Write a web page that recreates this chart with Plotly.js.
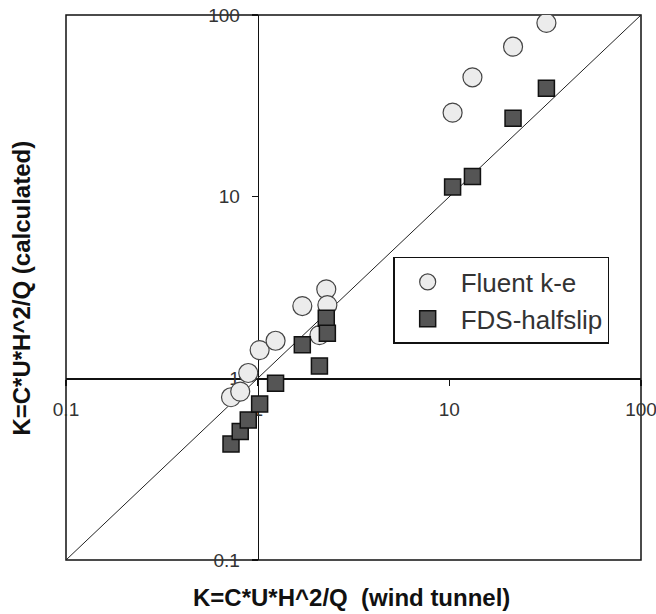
<!DOCTYPE html>
<html>
<head>
<meta charset="utf-8">
<script src="https://cdn.plot.ly/plotly-3.0.1.min.js"></script>
<style>html,body{margin:0;padding:0;background:#fff;}#chart{width:656px;height:614px;}</style>
</head>
<body>
<div id="chart"></div>
<script>
// Wind tunnel K values (shared by both series)
var windTunnel = [0.726, 0.811, 0.893, 1.024, 1.24, 1.71, 2.10, 2.28, 2.31, 10.4, 13.2, 21.5, 32.1];
// Fluent k-e calculated K
var fluentKe = [0.787, 0.845, 1.07, 1.43, 1.61, 2.50, 1.73, 3.09, 2.53, 29.0, 45.4, 66.9, 90.4];
// FDS-halfslip calculated K
var fdsHalfslip = [0.435, 0.509, 0.590, 0.723, 0.94, 1.53, 1.17, 2.14, 1.77, 11.3, 12.9, 27.0, 39.5];
// Reference line y = x
var diagX = [0.1, 100];
var diagY = [0.1, 100];
var tickVals = [0.1, 1, 10, 100];
var tickText = ['0.1', '1', '10', '100'];

var traces = [
  {x: diagX, y: diagY, mode: 'lines', type: 'scatter', showlegend: false, hoverinfo: 'skip',
   line: {color: '#222', width: 1}},
  {x: windTunnel, y: fluentKe, mode: 'markers', type: 'scatter', name: 'Fluent k-e',
   marker: {symbol: 'circle', size: 19, color: '#ececec', line: {color: '#444', width: 1.2}}},
  {x: windTunnel, y: fdsHalfslip, mode: 'markers', type: 'scatter', name: 'FDS-halfslip',
   marker: {symbol: 'square', size: 16, color: '#555555', line: {color: '#111', width: 1.5}}}
];

var tickFont = {family: 'Arial, "Liberation Sans", sans-serif', size: 19, color: '#333'};
var titleFont = {family: 'Arial, "Liberation Sans", sans-serif', size: 24, color: '#111', weight: 'bold'};

var layout = {
  width: 656, height: 614,
  margin: {l: 66, r: 15, t: 15, b: 54, pad: 0},
  paper_bgcolor: '#fff', plot_bgcolor: '#fff',
  showlegend: true,
  xaxis: {type: 'log', range: [-1, 2], anchor: 'free', position: 1/3,
    showline: true, linecolor: '#111', linewidth: 1.5, showgrid: false, zeroline: false,
    ticks: 'outside', ticklen: 6, tickwidth: 1.5, tickcolor: '#111',
    tickvals: tickVals, ticktext: tickText, tickfont: tickFont, layer: 'below traces',
    ticklabelstandoff: 7, ticklabeloverflow: 'allow', fixedrange: true},
  yaxis: {type: 'log', range: [-1, 2], anchor: 'free', position: 1/3,
    showline: true, linecolor: '#111', linewidth: 1.5, showgrid: false, zeroline: false,
    ticks: 'outside', ticklen: 6, tickwidth: 1.5, tickcolor: '#111',
    tickvals: tickVals, ticktext: tickText, tickfont: tickFont, layer: 'below traces',
    ticklabelstandoff: 8, ticklabeloverflow: 'allow', fixedrange: true},
  legend: {x: 0.569, y: 0.556, xanchor: 'left', yanchor: 'top',
    bgcolor: '#fff', bordercolor: '#111', borderwidth: 1.5, itemwidth: 56,
    font: {family: 'Arial, "Liberation Sans", sans-serif', size: 26, color: '#333'}},
  shapes: [
    {type: 'rect', xref: 'paper', yref: 'paper', x0: 0, x1: 1, y0: 0, y1: 1,
     line: {color: '#111', width: 1.5}, layer: 'below'}
  ],
  annotations: [
    {xref: 'paper', yref: 'paper', x: 0.4957, y: -0.068, xanchor: 'center', yanchor: 'middle',
     showarrow: false, text: 'K=C*U*H^2/Q  (wind tunnel)', font: titleFont},
    {xref: 'paper', yref: 'paper', x: -0.0765, y: 0.498, xanchor: 'center', yanchor: 'middle',
     showarrow: false, textangle: -90, text: 'K=C*U*H^2/Q (calculated)', font: titleFont}
  ]
};

Plotly.newPlot('chart', traces, layout, {displayModeBar: false, staticPlot: true});
</script>
</body>
</html>
